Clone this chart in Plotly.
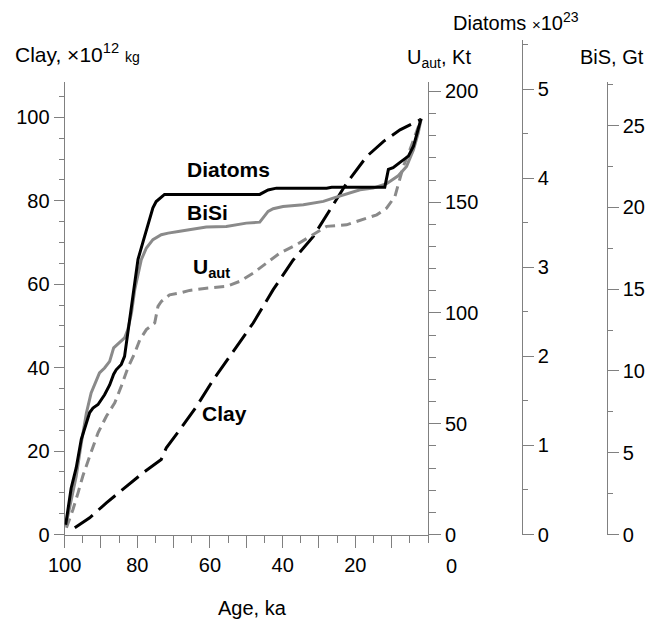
import plotly.graph_objects as go

# ---------------- data ----------------
diatoms_age = [99.7, 98.2, 96.8, 95.4, 93.1, 92.2, 90.8, 89.0, 87.6, 86.5, 85.8, 84.4, 83.5,
               82.6, 81.6, 80.7, 79.8, 78.4, 77.0, 75.7, 74.8, 73.4, 72.5, 46.3, 44.0, 41.7,
               27.9, 26.5, 11.9, 10.9, 9.6, 7.7, 5.4, 4.0, 2.7, 1.9]
diatoms = [0.11, 0.52, 0.75, 1.07, 1.37, 1.42, 1.46, 1.57, 1.68, 1.80, 1.85, 1.91, 2.00,
           2.26, 2.53, 2.79, 3.09, 3.29, 3.50, 3.67, 3.74, 3.79, 3.82, 3.82, 3.87, 3.89,
           3.89, 3.90, 3.90, 4.10, 4.12, 4.18, 4.25, 4.36, 4.55, 4.67]

bisi_age = [99.7, 98.2, 96.8, 95.4, 94.0, 92.7, 91.3, 90.4, 89.0, 87.6, 86.5, 84.9, 83.5,
            82.6, 81.6, 80.7, 79.8, 78.9, 77.5, 75.7, 73.4, 71.5, 68.3, 61.0, 55.5, 50.0,
            46.3, 44.0, 42.6, 39.9, 34.3, 28.8, 26.1, 22.4, 18.7, 15.1, 11.4, 8.2, 5.9,
            4.0, 2.7, 1.9]
bisi = [0.51, 2.14, 3.56, 5.60, 7.43, 8.66, 9.47, 9.88, 10.18, 10.59, 11.41, 11.71, 12.02,
        12.53, 13.54, 14.97, 15.99, 16.80, 17.52, 18.03, 18.33, 18.43, 18.54, 18.80, 18.84,
        19.04, 19.10, 19.76, 19.92, 20.06, 20.16, 20.37, 20.57, 20.83, 21.08, 21.18, 21.45,
        21.93, 22.51, 23.52, 24.54, 25.40]

uaut_age = [99.5, 97.7, 96.3, 95.0, 93.1, 90.8, 88.5, 86.2, 84.4, 82.6, 80.7, 79.3, 77.5,
            75.2, 74.3, 73.4, 71.1, 68.3, 65.6, 61.0, 55.5, 51.8, 48.1, 44.4, 40.8, 36.2,
            31.6, 27.9, 22.4, 17.8, 14.1, 11.4, 9.1, 8.2, 6.8, 5.0, 3.6, 1.9]
uaut = [3.0, 11.3, 18.8, 26.3, 35.3, 45.9, 53.4, 59.4, 66.9, 75.2, 81.9, 87.9, 92.5,
        95.5, 103.0, 105.2, 108.2, 109.0, 110.2, 111.2, 112.0, 114.3, 118.0, 122.5, 127.0,
        130.8, 135.3, 139.1, 139.8, 142.1, 144.3, 147.3, 152.6, 157.9, 166.1, 173.6, 179.6,
        187.5]

clay_age = [97.2, 93.1, 88.5, 83.0, 78.4, 73.4, 72.0, 68.3, 63.7, 59.1, 51.8, 48.1, 42.6,
            37.1, 31.6, 27.0, 22.4, 16.9, 12.3, 7.7, 5.0, 1.9]
clay = [1.6, 4.0, 7.6, 11.6, 14.8, 18.0, 20.8, 25.1, 30.7, 37.1, 46.3, 50.7, 58.7,
        65.8, 71.4, 77.8, 84.2, 90.6, 94.2, 97.0, 98.2, 99.5]

age_ticks = [100, 90, 80, 70, 60, 50, 40, 30, 20, 10]
age_ticktext = ["100", "", "80", "", "60", "", "40", "", "20", ""]
clay_ticks = [0, 20, 40, 60, 80, 100]
uaut_ticks = [0, 50, 100, 150, 200]
diatom_ticks = [0, 1, 2, 3, 4, 5]
bis_ticks = [0, 5, 10, 15, 20, 25]

# ---------------- styling ----------------
W, H = 651, 621
FONT = "Liberation Sans, Arial, sans-serif"
GRAY_AX = "#808080"
GRAY_LN = "#8a8a8a"

def px_x(p):
    return p / W

def px_y(p):
    return (H - p) / H

x_dom = [px_x(64.6), px_x(428)]
y_dom = [px_y(534.5), px_y(81.5)]
y3_dom = [px_y(534.5), px_y(40)]

tickfont = dict(family=FONT, size=20, color="black")

def axis_common(ticklen, minor_len, minor_dtick):
    return dict(showline=True, linecolor=GRAY_AX, linewidth=1, ticks="outside",
                ticklen=ticklen, tickcolor=GRAY_AX, tickwidth=1, showgrid=False,
                zeroline=False, tickfont=tickfont, automargin=False,
                minor=dict(ticks="outside", ticklen=minor_len, tickcolor=GRAY_AX,
                           tickwidth=1, dtick=minor_dtick, tick0=0, showgrid=False))

fig = go.Figure()
fig.add_trace(go.Scatter(x=clay_age, y=clay, mode="lines", yaxis="y",
                         line=dict(color="black", width=3, dash="22px,8px")))
fig.add_trace(go.Scatter(x=uaut_age, y=uaut, mode="lines", yaxis="y2",
                         line=dict(color=GRAY_LN, width=3, dash="10px,6px")))
fig.add_trace(go.Scatter(x=bisi_age, y=bisi, mode="lines", yaxis="y4",
                         line=dict(color=GRAY_LN, width=3)))
fig.add_trace(go.Scatter(x=diatoms_age, y=diatoms, mode="lines", yaxis="y3",
                         line=dict(color="black", width=3)))

xa = axis_common(12, 7, 5)
xa.update(domain=x_dom, range=[100, 0], anchor="y", tickmode="array",
          tickvals=age_ticks, ticktext=age_ticktext)

ya = axis_common(10, 5, 5)
ya.update(domain=y_dom, range=[0, 108.6], anchor="x", side="left",
          tickmode="array", tickvals=clay_ticks)

ya2 = axis_common(12, 7, 10)
ya2.update(range=[0, 204.5], overlaying="y", anchor="x", side="right",
           tickmode="array", tickvals=uaut_ticks)

ya3 = axis_common(11, 5, 0.5)
ya3.update(domain=y3_dom, range=[0, 5.554], anchor="free", position=px_x(521.7),
           side="right", tickmode="array", tickvals=diatom_ticks)

ya4 = axis_common(11, 5, 2.5)
ya4.update(range=[0, 27.7], overlaying="y", anchor="free", position=px_x(606.7),
           side="right", tickmode="array", tickvals=bis_ticks)

ann = []
def lab(text, x, y, size=21, xanchor="center", yanchor="middle", xref="x", yref="y", **kw):
    ann.append(dict(text=text, x=x, y=y, xref=xref, yref=yref, showarrow=False,
                    xanchor=xanchor, yanchor=yanchor,
                    font=dict(family=FONT, size=size, color="black"), **kw))

# curve labels
lab("<b>Diatoms</b>", 54.95, 87.4)
lab("<b>BiSi</b>", 60.8, 77.2)
lab("<b>U<sub>aut</sub></b>", 65.1, 64.0, xanchor="left")
lab("<b>Clay</b>", 56.1, 28.9)

# axis titles
lab("Clay, \u00d710<sup>12</sup> <span style='font-size:14px'>kg</span>",
    px_x(13), px_y(53), size=21, xanchor="left", xref="paper", yref="paper")
lab("U<sub>aut</sub>, Kt", px_x(405), px_y(59), size=20, xanchor="left",
    xref="paper", yref="paper")
lab("Diatoms <span style='font-size:15px'>\u00d7</span>10<sup>23</sup>",
    px_x(515.5), px_y(21), size=20, xref="paper", yref="paper")
lab("BiS, Gt", px_x(578), px_y(57), size=20, xanchor="left", xref="paper", yref="paper")
lab("Age, ka", px_x(252), px_y(608), size=20, xref="paper", yref="paper")
# displaced "0" label of the age axis
lab("0", 0, px_y(566), size=20, xref="x", yref="paper", xshift=23)

fig.update_layout(
    template="none",
    width=W, height=H, margin=dict(l=0, r=0, t=0, b=0, autoexpand=False),
    paper_bgcolor="white", plot_bgcolor="rgba(0,0,0,0)",
    showlegend=False, font=dict(family=FONT, size=20, color="black"),
    xaxis=xa, yaxis=ya, yaxis2=ya2, yaxis3=ya3, yaxis4=ya4,
    annotations=ann,
)

fig.write_html("out.html")
